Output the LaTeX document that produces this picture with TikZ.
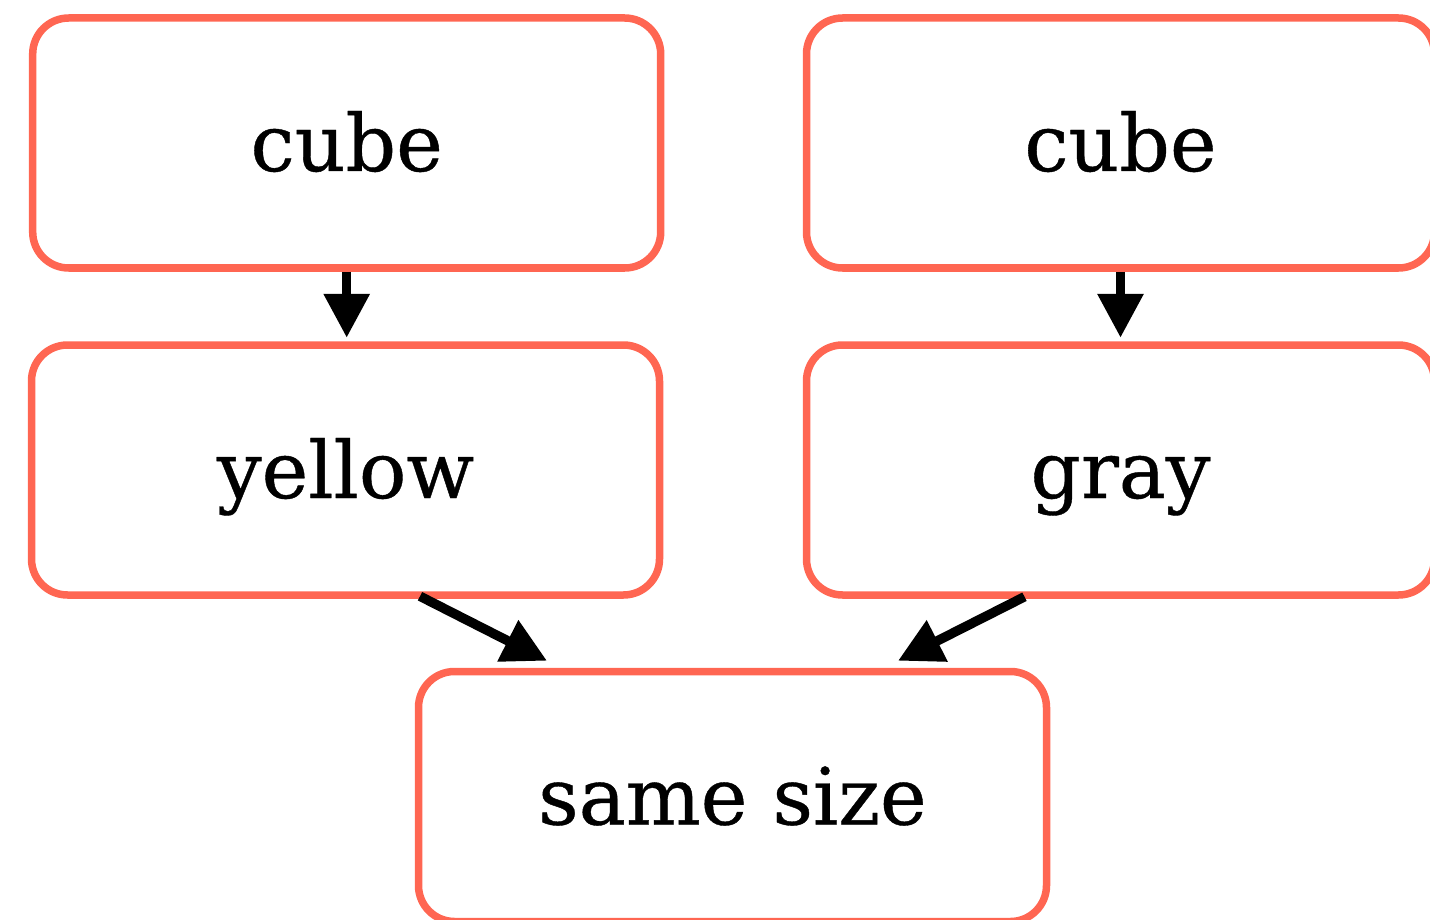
\documentclass[tikz,border=0pt]{standalone}
\usepackage{fontspec}
\setmainfont[FakeBold=0.5]{DejaVu Serif}
\usetikzlibrary{arrows.meta,calc}
\definecolor{boxred}{RGB}{255,102,82}
\begin{document}
\begin{tikzpicture}[x=1pt,y=-1pt,
  stepbox/.style={draw=boxred, line width=7.5pt, rounded corners=36pt,
    minimum width=628pt, minimum height=250pt, inner sep=0pt,
    text height=76pt, text depth=20pt, font=\fontsize{79}{92}\selectfont},
  link/.style={line width=9.5pt, -{Triangle[length=44pt,width=44pt]}}]
\useasboundingbox (0,0) rectangle (1430,920);
% boxes
\node[stepbox] (cubeL)  at (346.7,143)   {cube};
\node[stepbox] (cubeR)  at (1120.5,143)  {cube};
\node[stepbox] (yellow) at (345.5,470)   {yellow};
\node[stepbox] (gray)   at (1120.5,470)  {gray};
\node[stepbox] (same)   at (732.5,796.5) {same size};
% connectors
\draw[link, shorten >=3.5pt] (cubeL.south) -- (cubeL.south |- yellow.north);
\draw[link, shorten >=3.5pt] (cubeR.south) -- (cubeR.south |- gray.north);
\draw[link] ($(yellow.south)+(74.5,-2.5)$) -- ($(same.north)+(-185.5,-7)$);
\draw[link] ($(gray.south)+(-96,-2)$) -- ($(same.north)+(165.5,-7)$);
\end{tikzpicture}
\end{document}
